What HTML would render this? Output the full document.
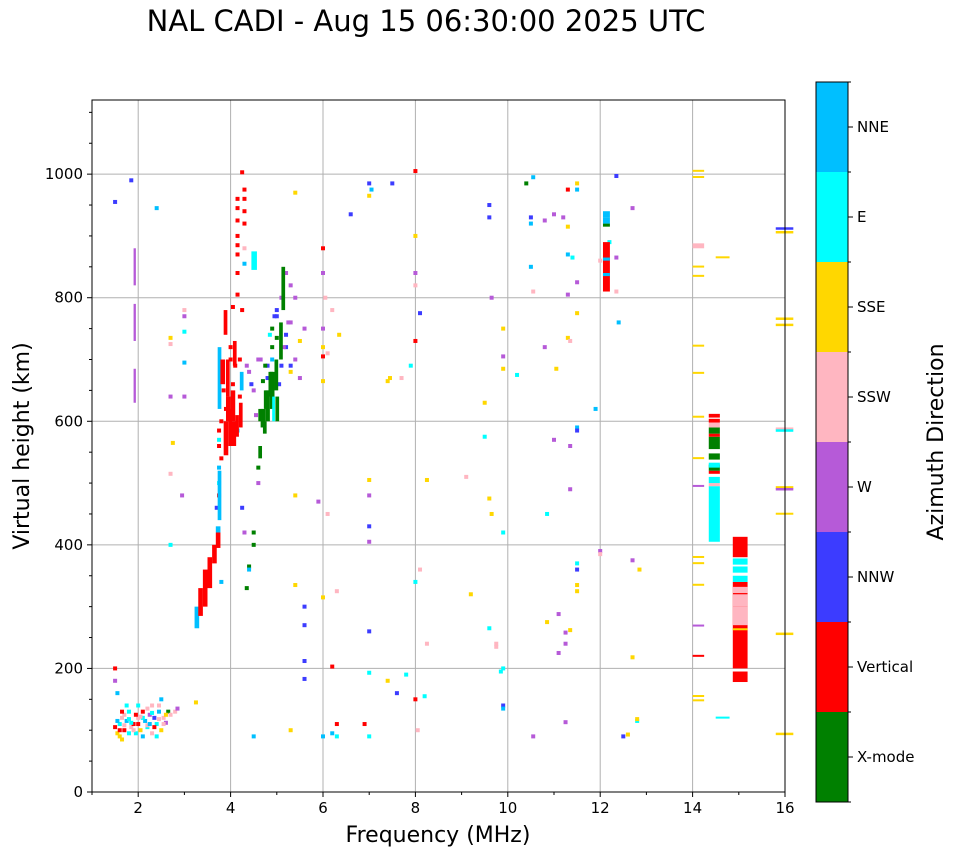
<!DOCTYPE html>
<html><head><meta charset="utf-8"><style>
body{margin:0;background:#fff;font-family:"DejaVu Sans",sans-serif}
svg text{font-family:"DejaVu Sans","Liberation Sans",sans-serif}
</style></head><body>
<svg id="c" width="958" height="857" xmlns="http://www.w3.org/2000/svg">
<text x="426" y="31" font-size="29" text-anchor="middle">NAL CADI - Aug 15 06:30:00 2025 UTC</text>
<g id="grid"></g>
<g id="marks"></g>
<rect x="92" y="100" width="693" height="692" fill="none" stroke="#000" stroke-width="1"/>
<g id="axes"></g>
<text x="438" y="842" font-size="22" text-anchor="middle">Frequency (MHz)</text>
<text transform="translate(29,446) rotate(-90)" font-size="22" text-anchor="middle">Virtual height (km)</text>
<g id="cbar"></g>
<text transform="translate(943,442) rotate(-90)" font-size="22" text-anchor="middle">Azimuth Direction</text>
</svg>
<script>
const dirLabels=["X-mode","Vertical","NNW","W","SSW","SSE","E","NNE"];
const dirColors=["#008000","#ff0000","#3c3cff","#b65ad8","#ffb6c1","#ffd700","#00ffff","#00bfff"];
const xTicks=[2,4,6,8,10,12,14,16];
const yTicks=[0,200,400,600,800,1000];
// point marks: frequency (MHz), height (km), direction index
const ptF=[1.5,1.55,1.6,1.65,1.7,1.75,1.8,1.85,1.6,1.7,1.5,1.55,1.5,1.9,1.95,2.0,2.05,2.1,2.15,2.2,2.25,2.3,2.35,2.4,2.45,2.5,2.55,2.6,2.65,2.7,2.8,2.85,2.0,2.1,2.3,1.8,1.95,2.2,2.4,1.65,2.5,2.45,1.75,
1.5,1.85,2.4,2.7,2.7,2.7,2.7,2.7,3.0,3.0,3.0,3.0,2.95,3.25,2.75,3.0,
3.75,3.75,3.75,3.8,3.75,3.75,3.7,3.8,3.75,4.15,
4.15,4.15,4.15,4.15,4.15,4.15,4.15,4.15,4.3,4.3,4.3,4.3,4.3,4.25,4.3,4.25,4.05,
4.25,4.3,4.5,4.5,4.4,4.4,4.5,4.35,3.8,
5.1,5.2,5.3,5.4,5.3,5.2,5.4,5.3,5.2,5.0,4.9,4.8,4.6,4.5,4.4,5.5,5.6,6.0,6.0,6.05,6.2,6.35,6.0,6.1,6.0,6.0,6.0,5.5,5.3,5.1,4.6,4.6,
5.4,6.6,7.0,7.05,7.0,7.5,8.0,8.0,8.0,8.0,8.1,8.0,7.9,7.7,7.4,7.45,6.1,5.9,5.4,7.0,7.0,7.0,7.0,8.25,9.1,9.5,9.5,9.6,9.65,9.9,9.9,9.9,9.9,9.65,9.6,9.6,10.4,10.55,10.5,10.5,10.5,10.55,10.8,11.0,11.2,11.3,11.3,11.5,11.5,11.3,11.4,11.3,11.5,11.5,11.3,11.35,10.8,10.2,11.05,11.9,11.0,11.35,11.5,11.5,11.35,10.85,9.6,9.75,9.75,9.9,9.85,9.9,9.9,9.2,10.55,10.85,11.1,11.1,11.25,11.35,11.25,11.25,11.5,11.5,11.5,11.5,12.0,12.0,12.7,12.85,12.7,12.5,12.6,12.8,12.8,12.7,12.35,12.0,12.2,12.35,12.35,12.4,
6.0,6.2,6.3,6.3,6.9,7.0,7.0,7.0,6.2,6.3,6.0,5.6,5.6,5.6,5.6,5.4,5.3,7.4,7.6,7.8,8.0,8.1,8.25,8.2,8.0,8.05,
1.55,1.6,1.7,1.8,1.9,2.0,2.1,2.2,2.3,2.35,2.55,2.6,1.65,1.85,2.05,2.25,2.45,
3.9,4.0,4.1,4.2,4.35,4.45,4.55,4.7,4.8,4.9,5.0,5.15,5.25,4.95,4.85,4.75,5.05,4.65,4.9,5.0,3.85,4.05,4.2,4.0];
const ptH=[105,95,110,120,100,115,130,105,90,125,200,160,180,110,95,120,100,130,115,105,125,95,120,110,130,100,120,112,130,125,130,135,140,90,140,95,125,135,90,85,150,140,140,
955,990,945,400,515,640,735,725,780,770,745,695,480,145,565,640,
560,585,570,600,480,500,460,540,525,585,
960,945,925,900,885,870,840,805,975,960,940,920,880,1003,855,780,785,
460,420,420,400,365,360,90,330,340,
800,840,820,800,760,720,700,690,740,780,700,670,700,650,680,730,750,750,840,800,780,740,720,710,665,880,705,670,680,690,500,525,
970,935,985,975,965,985,1005,900,840,820,775,730,690,670,665,670,450,470,480,505,480,430,405,505,510,630,575,475,450,420,750,705,685,800,950,930,985,995,930,920,850,810,925,935,930,915,975,985,975,870,865,805,825,775,735,730,720,675,685,620,570,560,590,585,490,450,265,240,235,200,195,140,135,320,90,275,288,225,258,262,240,113,370,360,335,325,390,385,375,360,218,90,93,115,118,945,997,860,890,865,810,760,
90,95,90,110,110,90,260,193,203,325,315,300,270,212,183,335,100,180,160,190,340,360,240,155,150,100,
115,100,108,118,100,110,120,108,128,105,110,125,130,112,122,110,118,
620,700,690,640,690,660,610,665,690,720,735,720,760,770,740,690,660,700,750,770,650,660,700,720];
const ptD=[1,5,6,4,1,7,6,4,5,4,1,7,3,1,6,4,5,1,7,6,3,4,2,6,7,5,4,3,0,4,4,3,6,7,4,6,1,4,6,5,7,4,6,
2,2,7,6,4,3,5,4,4,3,6,7,3,5,5,3,
1,1,6,1,1,6,2,1,7,7,
1,1,1,1,1,1,1,1,1,1,1,1,4,1,7,1,1,
2,3,0,0,0,7,7,0,7,
3,3,3,3,3,2,3,2,2,2,7,2,3,3,3,5,3,3,3,4,4,5,5,4,5,1,1,3,5,2,3,0,
5,2,2,7,5,2,1,5,3,4,2,1,6,4,5,5,4,3,5,5,3,2,3,5,4,5,6,5,5,6,5,3,5,3,2,2,0,7,2,7,7,4,3,3,3,5,1,5,7,7,6,3,3,5,5,4,3,6,5,7,3,3,7,2,3,6,6,4,4,6,6,2,7,5,3,5,3,3,3,5,3,3,6,2,5,5,3,4,3,5,5,2,5,6,5,3,2,4,6,3,4,7,
7,7,6,1,1,6,2,6,1,4,5,2,2,2,2,5,5,5,2,6,6,4,4,6,1,4,
7,1,4,6,4,1,6,4,6,1,4,5,1,6,4,7,4,
1,1,1,1,3,2,3,0,2,0,0,3,3,2,6,0,2,3,0,2,1,1,1,1];
// block marks: start freq, freq width (MHz), low height, high height (km), direction
const bF=[1.9,1.9,1.9,3.22,3.3,3.4,3.5,3.6,3.68,3.68,3.72,3.72,3.85,3.95,4.0,4.1,3.9,4.05,3.85,4.2,4.45,
4.65,4.75,4.85,4.95,5.05,5.1,4.6,4.7,4.9,
12.06,12.06,12.06,12.06,12.06,12.06,
14.35,14.35,14.35,14.35,14.35,14.35,14.35,14.35,14.35,14.35,14.35,14.35,14.35,
14.87,14.87,14.87,14.87,14.87,14.87,14.87,14.87,14.87,14.87,
14.0,14.0,14.0,14.0,14.0,14.0,14.0,14.0,14.0,14.0,14.0,14.0,14.0,14.0,14.0,14.0,14.0,14.5,14.5,
15.8,15.8,15.8,15.8,15.8,15.8,15.8,15.8,15.8,15.8,15.8,
3.78,3.9,4.02,4.18,4.6,4.72,4.82,4.97];
const bW=[0.05,0.05,0.05,0.1,0.1,0.1,0.1,0.1,0.1,0.1,0.08,0.08,0.1,0.08,0.1,0.08,0.08,0.08,0.08,0.08,0.12,
0.1,0.1,0.1,0.08,0.08,0.08,0.08,0.08,0.06,
0.15,0.15,0.15,0.15,0.15,0.15,
0.24,0.24,0.24,0.24,0.24,0.24,0.24,0.24,0.24,0.24,0.24,0.24,0.24,
0.32,0.32,0.32,0.32,0.32,0.32,0.32,0.32,0.32,0.32,
0.25,0.25,0.25,0.25,0.25,0.25,0.25,0.25,0.25,0.25,0.25,0.25,0.25,0.25,0.25,0.25,0.25,0.3,0.3,
0.38,0.38,0.38,0.38,0.38,0.38,0.38,0.38,0.38,0.38,0.38,
0.1,0.1,0.1,0.08,0.1,0.1,0.1,0.08];
const bLo=[630,730,820,265,285,300,330,370,395,420,440,620,545,560,600,575,640,690,740,650,845,
590,600,620,650,700,780,540,580,600,
810,835,860,915,920,930,
405,495,500,515,520,538,555,575,580,590,598,606,525,
178,200,270,300,340,355,368,380,262,322,
1004,994,849,834,721,677,606,539,379,369,334,154,147,880,494,268,219,864,119,
910,904,764,754,586,583,491,488,449,254,92,
660,600,560,590,600,620,640,600];
const bHi=[685,790,880,300,330,360,380,400,420,430,520,720,600,620,650,610,700,730,780,680,875,
620,650,680,700,760,850,560,600,640,
890,840,865,920,930,940,
495,500,510,520,530,548,575,580,590,598,604,612,533,
195,340,300,320,350,365,378,413,265,332,
1007,997,852,837,724,680,609,542,382,372,337,157,150,888,497,271,222,867,122,
914,908,768,758,590,587,495,492,452,258,96,
700,640,600,630,620,650,680,640];
const bD=[3,3,3,7,1,1,1,1,1,7,7,7,1,1,1,1,1,1,1,7,6,
0,0,0,0,0,0,0,0,6,
1,7,7,0,7,7,
6,4,6,1,0,0,0,1,0,4,1,1,6,
1,1,4,4,6,6,6,1,5,4,
5,5,5,5,5,5,5,5,5,5,5,5,5,4,3,3,1,5,6,
2,5,5,5,4,6,5,3,5,5,5,
1,1,1,1,0,0,0,0];
const NS="http://www.w3.org/2000/svg";
const X0=92,X1=785,Y0=792,Y1=100,FMIN=1,FMAX=16,HMAX=1120;
const xs=f=>X0+(f-FMIN)/(FMAX-FMIN)*(X1-X0);
const ys=h=>Y0-h/HMAX*(Y0-Y1);
function mk(tag,attrs,parent){const e=document.createElementNS(NS,tag);for(const k in attrs)e.setAttribute(k,attrs[k]);parent.appendChild(e);return e;}
const grid=document.getElementById('grid'),axes=document.getElementById('axes'),marks=document.getElementById('marks'),cb=document.getElementById('cbar');
xTicks.forEach(t=>{const x=xs(t);
 const g=mk('line',{x1:x,x2:x,y1:Y1,y2:Y0,stroke:'#b0b0b0','stroke-width':1},grid);
 
 
 mk('line',{x1:x,x2:x,y1:Y0,y2:Y0+5,stroke:'#000'},axes);
 const tx=mk('text',{x:x,y:Y0+21,'font-size':15,'text-anchor':'middle'},axes);tx.textContent=t;
 
 
 const m=xs(t-1);mk('line',{x1:m,x2:m,y1:Y0,y2:Y0+3,stroke:'#000'},axes);
});
yTicks.forEach(t=>{const y=ys(t);
 if(t>0){const g=mk('line',{x1:X0,x2:X1,y1:y,y2:y,stroke:'#b0b0b0','stroke-width':1},grid);
 
 }
 mk('line',{x1:X0-5,x2:X0,y1:y,y2:y,stroke:'#000'},axes);
 const tx=mk('text',{x:X0-9,y:y+5,'font-size':15,'text-anchor':'end'},axes);tx.textContent=t;
 
 
 [50,100,150].forEach(o=>{if(t+o<HMAX){const m=ys(t+o);mk('line',{x1:X0-3,x2:X0,y1:m,y2:m,stroke:'#000'},axes);}});
});
ptF.forEach((f,i)=>{const x=xs(f),y=ys(ptH[i]);
 const r=mk('rect',{x:x-2,y:y-2,width:4,height:4,fill:dirColors[ptD[i]]},marks);
 
 
});
bF.forEach((f,i)=>{const x=xs(f),w=xs(f+bW[i])-x,yt=ys(bHi[i]),yb=ys(bLo[i]);
 const r=mk('rect',{x:x,y:yt,width:w,height:Math.max(2,yb-yt),fill:dirColors[bD[i]]},marks);
 
 
});
const CX=816,CW=32,CT=82,CB=802,bh=(CB-CT)/dirLabels.length;
dirLabels.forEach((l,i)=>{const y=CB-(i+1)*bh;
 const r=mk('rect',{x:CX,y:y,width:CW,height:bh,fill:dirColors[i]},cb);
 
 
 mk('line',{x1:CX+CW,x2:CX+CW+5,y1:y+bh/2,y2:y+bh/2,stroke:'#000'},cb);
 const tx=mk('text',{x:CX+CW+9,y:y+bh/2+5,'font-size':15},cb);tx.textContent=l;
 
 
});
for(let i=0;i<=dirLabels.length;i++){const y=CT+i*bh;mk('line',{x1:CX+CW,x2:CX+CW+3,y1:y,y2:y,stroke:'#000'},cb);}
mk('rect',{x:CX,y:CT,width:CW,height:CB-CT,fill:'none',stroke:'#000'},cb);
</script>
</body></html>
